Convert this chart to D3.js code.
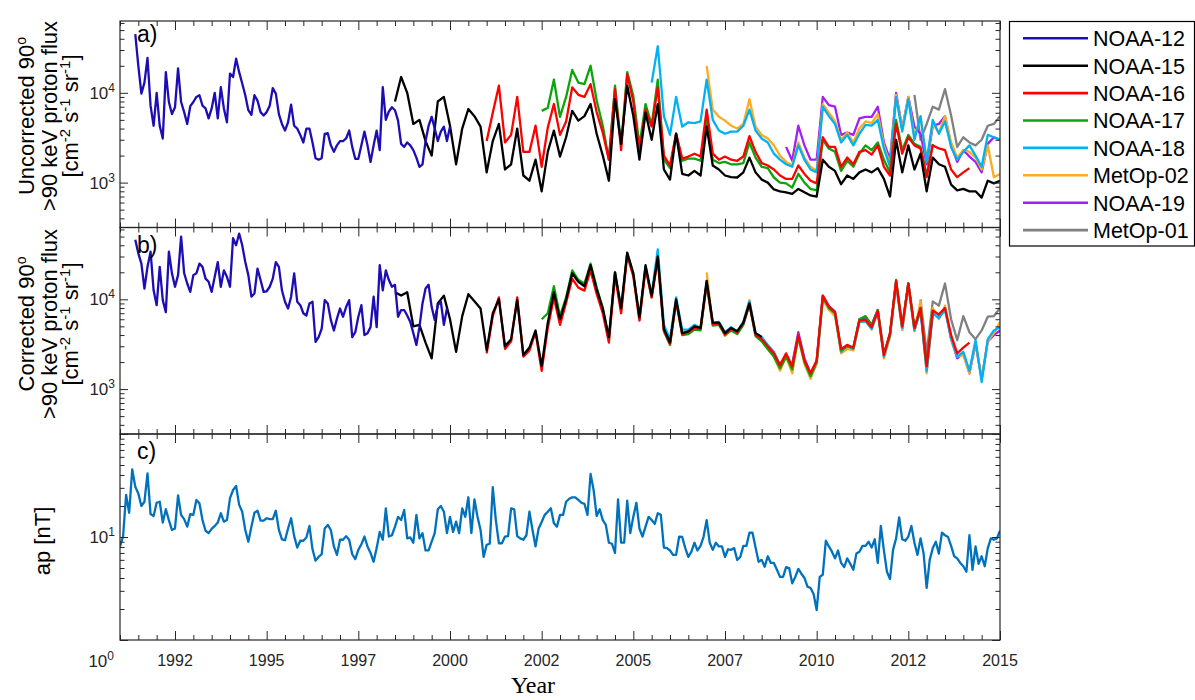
<!DOCTYPE html>
<html>
<head>
<meta charset="utf-8">
<script src="https://cdnjs.cloudflare.com/ajax/libs/d3/7.8.5/d3.min.js"></script>
<style>
  body { margin: 0; background: #fff; }
  svg { display: block; font-family: "Liberation Sans", Arial, Helvetica, sans-serif; }
</style>
</head>
<body>
<svg id="chart" width="1195" height="700"></svg>
<script>
// ---------------------------------------------------------------
// Data
// ---------------------------------------------------------------
const satNames  = ["NOAA-12", "NOAA-15", "NOAA-16", "NOAA-17", "NOAA-18", "MetOp-02", "NOAA-19", "MetOp-01"];
const satColors = ["#1d0db5", "#000000", "#ff0000", "#0ba40b", "#00b2f2", "#ffab1f", "#a31ff2", "#808080"];

const MONTH = 1 / 12;
const BIMONTH = 1 / 6;

// start times (decimal year) of each record
const starts = {
  n12: 1991 + 5 / 12,
  n15: 1998.5,
  n16: 2001.0,
  n17: 2002.5,
  n18: 2005.5,
  m02: 2007.0,
  n19raw: 2009 + 1 / 6, n19cor: 2009 + 2 / 6,
  m01raw: 2012 + 4 / 6, m01cor: 2012 + 5 / 6
};

// a) uncorrected >90 keV proton flux [cm^-2 s^-1 sr^-1]
const noaa12Raw = [45000, 20000, 9800, 13000, 24500, 7200, 4300, 10000, 4300, 3100, 17000, 7900, 5800, 6900, 18700, 7900,
  6100, 4500, 7100, 7900, 9000, 9400, 7200, 6700, 5200, 6700, 10000, 5200, 11600, 6700, 4700, 16400, 15000, 24000, 17000,
  12700, 9400, 6400, 5700, 9400, 8200, 6100, 5600, 6100, 7200, 11300, 9800, 5800, 4500, 3800, 4700, 7400, 4300, 4000, 3400,
  2800, 4000, 4000, 2800, 1870, 1800, 1870, 3500, 3550, 2600, 2200, 2600, 2900, 2900, 3100, 3800, 2500, 1840, 1840, 2600,
  3700, 2600, 1700, 2600, 3800, 2300, 11600, 5000, 6200, 6900, 6400, 4900, 2700, 2500, 2800, 2600, 2300, 1900, 1500, 1600,
  2900, 4300, 5400, 4000, 2900, 3700, 4200, 2900, 4200];
const noaa15Raw = [8000, 15000, 10000, 4500, 5000, 2900, 2000, 8000, 9000, 4300, 1600, 4000, 6600, 5500, 4200, 1300, 2900,
  4500, 1400, 1600, 4000, 1200, 1050, 1800, 800, 2200, 3800, 1950, 3200, 6300, 4900, 5500, 7500, 3500, 2000, 1050, 8500,
  2700, 12000, 5500, 1800, 6000, 3000, 7500, 1400, 1080, 3500, 1250, 1200, 1350, 1200, 4200, 1550, 1400, 1200, 1150, 1140,
  1300, 1900, 1300, 1080, 1000, 840, 800, 780, 750, 850, 780, 720, 700, 1800, 1500, 1350, 960, 1200, 1100, 1300, 1400, 1300,
  1450, 1100, 700, 3000, 1300, 2600, 1400, 2100, 800, 1900, 1600, 1500, 950, 820, 850, 800, 800, 680, 1050, 980, 1050];
const noaa16Raw = [2900, 6000, 12000, 2800, 3400, 9000, 2200, 2200, 4300, 1500, 4100, 7500, 3400, 4800, 11500, 9500, 9000,
  12500, 6100, 3600, 1800, 11000, 2300, 16000, 8000, 2200, 6500, 4200, 11500, 2000, 1550, 3500, 1850, 1950, 2100, 1950,
  6500, 2100, 1800, 1950, 1800, 1750, 1950, 3300, 2200, 1650, 1550, 1400, 1200, 1100, 1100, 1550, 1250, 1050, 980, 3200,
  2500, 2500, 1500, 1900, 1600, 2200, 2300, 2050, 2600, 1500, 1200, 4500, 2100, 3200, 2600, 2400, 1150, 2600, 2400, 2300,
  1400, 1150, 1300, 1450];
const noaa17Raw = [6300, 6800, 14000, 5400, 9000, 18000, 13000, 12500, 20000, 8200, 4300, 1800, 12000, 2600, 17000, 9200,
  2600, 7500, 4400, 14000, 1800, 1450, 3500, 1750, 1850, 1850, 1750, 5200, 1800, 1650, 1700, 1600, 1600, 1650, 2800, 1900,
  1500, 1450, 1140, 1000, 980, 880, 1250, 1000, 850, 820, 3000, 2400, 2200, 1350, 1750, 1500, 2100, 2600, 2300, 2800, 1800,
  1300, 5000, 2300, 3400, 2700, 2500, 1200, 2700];
const noaa18Raw = [13000, 33000, 5500, 3400, 9000, 4200, 4700, 4600, 4800, 14000, 5000, 3800, 3500, 3700, 3700, 4300, 6500,
  3800, 3100, 2800, 2100, 1800, 1600, 1500, 2600, 1800, 1400, 1300, 7000, 5500, 4500, 2800, 3400, 2600, 3500, 4400, 4300,
  5000, 2400, 1500, 9000, 3700, 8500, 3000, 5500, 1700, 5000, 3500, 4800, 2500, 1800, 2200, 2600, 2000, 1500, 3400, 3200, 3000];
const metop02Raw = [20000, 6500, 5400, 4900, 4300, 4000, 4500, 8500, 4200, 3400, 3100, 2600, 2000, 1700, 1550, 2800, 1900,
  1500, 1350, 7500, 6000, 4800, 3000, 3600, 2800, 4000, 4800, 4600, 5800, 2600, 1600, 9500, 3900, 9000, 3300, 5200, 1800,
  4500, 3600, 5500, 2800, 1900, 2300, 2200, 1900, 1400, 2600, 1150, 1250];
const noaa19Raw = [2500, 1750, 4300, 2600, 1800, 1800, 9000, 7300, 7000, 3400, 3600, 3400, 5200, 5400, 5400, 7000, 2800,
  1800, 10000, 4000, 9000, 4200, 3500, 1600, 4300, 4500, 5500, 2600, 1700, 2300, 1950, 1700, 1300, 2700, 3200, 3000];
const metop01Raw = [9500, 3000, 4500, 7000, 6500, 11000, 5600, 2500, 3200, 2800, 2600, 3000, 4300, 4500, 5500];

// b) corrected >90 keV proton flux [cm^-2 s^-1 sr^-1]
const noaa12Cor = [46000, 32500, 25000, 13200, 23000, 34000, 12600, 8600, 23000, 9800, 7200, 34000, 19500, 13800, 18600,
  50000, 19500, 15000, 12100, 18600, 19500, 25000, 23000, 17000, 15700, 12100, 17800, 26000, 13800, 21000, 17800, 13800,
  48000, 40000, 54000, 40000, 26000, 18600, 10700, 11600, 22000, 16400, 12100, 12300, 13800, 17000, 26000, 23000, 12600,
  9400, 7900, 10700, 19500, 9400, 8600, 7000, 6600, 9000, 9400, 3350, 3800, 4700, 9800, 9000, 5900, 4500, 6100, 7900, 6400,
  8200, 9800, 3800, 4300, 6400, 8600, 4000, 4200, 4900, 10700, 4900, 24000, 12600, 21000, 16400, 13800, 14500, 6400, 7600,
  7600, 6600, 5600, 4200, 3100, 4900, 9000, 13200, 14500, 8200, 5900, 8600, 9400, 5200, 7900];
const noaa15Cor = [12000, 11000, 12000, 5000, 5200, 3300, 2200, 9000, 11000, 6000, 2600, 6500, 11400, 9500, 7900, 2700, 7000,
  10000, 3000, 3600, 9800, 2400, 2900, 4500, 1800, 5500, 12000, 6000, 10000, 19500, 15700, 14000, 24000, 13000, 7900, 3800,
  20000, 8000, 33000, 19500, 6300, 24000, 11000, 30000, 4700, 3300, 10000, 4200, 4400, 5000, 4800, 16000, 5500, 5500, 4200,
  4800, 4400, 5500, 9000, 4200, 3800];
const noaa16Cor = [2500, 6500, 10500, 2800, 3400, 10500, 2300, 2700, 4300, 1600, 4800, 10500, 5200, 9200, 17000, 13500, 12500,
  21000, 11500, 7000, 3300, 18500, 7000, 31000, 18000, 5800, 22000, 10500, 28000, 4500, 3200, 9500, 4100, 4300, 4800, 4700,
  15000, 5300, 5400, 4100, 4700, 4300, 5400, 8800, 4000, 3600, 3000, 2500, 1850, 2500, 1800, 4000, 2100, 1500, 2100, 11000,
  8300, 7200, 2800, 3100, 2900, 5800, 5900, 4900, 7400, 2400, 4200, 16000, 5000, 15000, 4800, 8000, 1800, 7500, 6800, 8000,
  4000, 2500, 2900, 3300];
const noaa17Cor = [6000, 7000, 14000, 6500, 10500, 21000, 16500, 15000, 25000, 13500, 8000, 3600, 20000, 7500, 33000, 19000,
  6000, 23000, 10500, 29000, 4400, 3100, 9500, 4000, 4100, 4600, 4500, 15000, 5100, 5200, 4000, 4500, 4100, 5200, 8800, 3900,
  3400, 2800, 2300, 1700, 2300, 1650, 3800, 2000, 1400, 2000, 10500, 8000, 7000, 2700, 3000, 2900, 6000, 6500, 5200, 7600,
  2500, 4000, 16500, 5000, 15000, 4800, 8000, 1800, 7600];
const noaa18Cor = [11500, 36000, 5200, 3600, 10500, 4600, 4600, 5200, 4800, 16000, 5400, 5600, 4300, 4900, 4400, 5600, 9500,
  4200, 3800, 3100, 2600, 1850, 2400, 1750, 4000, 2100, 1400, 2000, 10500, 8200, 7000, 2600, 3000, 2800, 5600, 5700, 4700,
  7200, 2300, 4000, 15000, 4800, 15000, 4500, 7600, 1600, 7000, 6200, 7600, 3700, 2300, 2600, 1600, 3500, 1200, 3600, 4500, 4900];
const metop02Cor = [20000, 5200, 5600, 3900, 4600, 4200, 5500, 9800, 4000, 3500, 2800, 2300, 1600, 2300, 1500, 3700, 1900,
  1300, 1900, 10000, 7600, 6500, 2500, 2800, 2700, 5600, 5800, 4600, 7600, 2200, 3800, 15000, 4600, 14000, 4400, 9500, 1500,
  8000, 6000, 8500, 3600, 2300, 2400, 1500, 3300, 1300, 3400, 4200, 5600];
const noaa19Cor = [1900, 4300, 2200, 1500, 2000, 11000, 8400, 7300, 2600, 3100, 2800, 6000, 6200, 5200, 7600, 2400, 4200,
  15500, 4600, 15000, 4600, 7600, 1600, 7000, 6500, 8000, 3600, 2200, 2500, 1500, 3200, 1300, 3400, 4000, 4500];
const metop01Cor = [10000, 2500, 9500, 8500, 15000, 6000, 3500, 6500, 4300, 3600, 4500, 6400, 6500, 8000];

// c) monthly geomagnetic ap index [nT], January 1991 onward
const apStart = 1991.0;
const apValues = [8.1, 10.1, 25.6, 17.2, 45.4, 30.8, 26.5, 20, 22, 41.5, 16.7, 16, 21.5, 22, 13.8, 18.6, 14.6, 11.7, 12.1,
  25.4, 16.4, 14.9, 12.6, 16.7, 16.4, 22.9, 21.2, 14.6, 11.5, 10.9, 12, 12.8, 13.8, 17, 14.1, 14.6, 23.8, 28.6, 31.3, 20.5,
  17.6, 11.7, 9.0, 12.6, 17.2, 18, 14.4, 14.4, 15.2, 14.9, 14.9, 18, 11.7, 9.5, 9.3, 12.1, 15.2, 10.2, 7.9, 9.2, 9.2, 9.9,
  12.8, 7.6, 5.9, 6.4, 6.8, 12.1, 13.1, 11.7, 8.1, 6.7, 9.4, 9.4, 10.2, 9.4, 6.8, 6.1, 7.5, 8.5, 10.1,
  8.1, 7.0, 5.75, 7.8, 11.2, 9.4, 19, 10.1, 10.4, 12.6, 15.7, 14.6, 18.3, 9.7, 9.9, 8.8, 16.4, 9.7, 10.9, 7.4, 7.4, 9.0,
  10.9, 18.6, 20, 17.6, 10.9, 15.7, 11.2, 14.1, 10.9, 19, 15.7, 24.3, 10.9, 23.2, 15.7, 11.7, 6.4, 8.4, 8.6, 30.4, 14.6,
  8.7, 8.7, 10.1, 10.2, 19, 18.6, 10.2, 9.7, 9.4, 10.4, 17.6, 11.7, 8.1, 12.1, 14.0, 16.4, 17.6, 19, 13.6, 12.6, 16.4,
  16.4, 22, 23.5, 24.3, 24.3, 22.9, 21.5, 21, 16.4, 40.9, 28.6, 16, 18.6, 14.6, 13.1, 8.8, 8.6, 7.0, 23.2, 8.8, 8.8, 22.5,
  10.9, 15.7, 21.5, 12.1, 10.1, 12.6, 15.7, 14.6, 13.4, 17, 16.4, 7.9, 7.8, 7.4, 6.7, 6.7, 10.1, 10, 7.8, 6.4, 7.2, 8.8,
  7.4, 8.2, 10.1, 14.6, 8.8, 7.5, 8.8, 8.1, 8.1, 6.4, 7.6, 7.5, 7.8, 6.0, 6.4, 8.2, 8.2, 11, 11, 7.9, 5.75, 6.0, 5.15,
  6.5, 5.6, 5.6, 4.8, 4.1,
  4.1, 5.1, 5.0, 3.55, 4.1, 4.9, 4.4, 4.0, 3.3, 3.2, 2.8, 1.95, 4.1, 4.3, 9.2, 8.1, 7.2, 6.2, 7.4, 5.6, 5.1, 6.2, 5.5,
  4.8, 6.9, 7.2, 8.2, 8.2, 9.0, 7.9, 9.5, 5.6, 12.8, 7.4, 4.6, 3.9, 7.5, 9.7, 15.5, 9.5, 9.2, 10.1, 12.8, 8.8, 6.7, 9.7,
  6.9, 3.2, 6.0, 7.8, 9.0, 6.9, 11, 10.4, 10, 8.2, 6.5, 6.2, 5.6, 5.2, 4.6, 10.4, 4.8, 8.1, 5.5, 6.5, 5.2, 7.8, 9.7, 9.4,
  9.7, 11.5];

// time axis
const xDomain = [1991, 2015];
const xMajorTicks = [1992.5, 1995, 1997.5, 2000, 2002.5, 2005, 2007.5, 2010, 2012.5, 2015];
const xTickLabels = ["1992", "1995", "1997", "2000", "2002", "2005", "2007", "2010", "2012", "2015"];

// series tables (one entry per satellite, in legend order)
const rawSeries = [
  { start: starts.n12, step: MONTH, values: noaa12Raw },
  { start: starts.n15, step: BIMONTH, values: noaa15Raw },
  { start: starts.n16, step: BIMONTH, values: noaa16Raw },
  { start: starts.n17, step: BIMONTH, values: noaa17Raw },
  { start: starts.n18, step: BIMONTH, values: noaa18Raw },
  { start: starts.m02, step: BIMONTH, values: metop02Raw },
  { start: starts.n19raw, step: BIMONTH, values: noaa19Raw },
  { start: starts.m01raw, step: BIMONTH, values: metop01Raw }
];
const corSeries = [
  { start: starts.n12, step: MONTH, values: noaa12Cor },
  { start: starts.n15, step: BIMONTH, values: noaa15Cor },
  { start: starts.n16, step: BIMONTH, values: noaa16Cor },
  { start: starts.n17, step: BIMONTH, values: noaa17Cor },
  { start: starts.n18, step: BIMONTH, values: noaa18Cor },
  { start: starts.m02, step: BIMONTH, values: metop02Cor },
  { start: starts.n19cor, step: BIMONTH, values: noaa19Cor },
  { start: starts.m01cor, step: BIMONTH, values: metop01Cor }
];

// ---------------------------------------------------------------
// Layout
// ---------------------------------------------------------------
const svg = d3.select("#chart");
const axisColor = "#262626";
const plotLeft = 120, plotRight = 1000;
const panelBox = [
  { top: 21, bottom: 227.5 },
  { top: 227.5, bottom: 434 },
  { top: 434, bottom: 640 }
];

const x = d3.scaleLinear().domain(xDomain).range([plotLeft, plotRight]);
const yRaw = d3.scaleLog().domain([Math.pow(10, 2.5), Math.pow(10, 4.8)]).range([panelBox[0].bottom, panelBox[0].top]);
const yCor = d3.scaleLog().domain([Math.pow(10, 2.5), Math.pow(10, 4.8)]).range([panelBox[1].bottom, panelBox[1].top]);
const yAp  = d3.scaleLog().domain([1, 100]).range([panelBox[2].bottom, panelBox[2].top]);

const xMinorTicks = d3.range(1991, 2015.001, 0.5).filter(t => !xMajorTicks.includes(t));

function logMinor(scale) {
  const [lo, hi] = scale.domain();
  const out = [];
  for (let e = Math.floor(Math.log10(lo)); e <= Math.ceil(Math.log10(hi)); e++) {
    for (let m = 2; m <= 9; m++) {
      const v = m * Math.pow(10, e);
      if (v >= lo && v <= hi) out.push(v);
    }
  }
  return out;
}
function logMajor(scale) {
  const [lo, hi] = scale.domain();
  const out = [];
  for (let e = Math.ceil(Math.log10(lo) - 1e-9); e <= Math.floor(Math.log10(hi) + 1e-9); e++) out.push(Math.pow(10, e));
  return out;
}

function styleAxis(g) {
  g.select(".domain").remove();
  g.selectAll(".tick line").attr("stroke", axisColor).attr("stroke-width", 1);
  g.selectAll(".tick text").remove();
}

function drawFrame(y, box) {
  const g = svg.append("g").attr("class", "frame");
  const majY = logMajor(y), minY = logMinor(y);
  // bottom & top time ticks (pointing inward)
  [[d3.axisBottom, box.bottom], [d3.axisTop, box.top]].forEach(([ax, pos]) => {
    g.append("g").attr("transform", `translate(0,${pos})`)
      .call(ax(x).tickValues(xMajorTicks).tickSize(-9).tickSizeOuter(0)).call(styleAxis);
    g.append("g").attr("transform", `translate(0,${pos})`)
      .call(ax(x).tickValues(xMinorTicks).tickSize(-5).tickSizeOuter(0)).call(styleAxis);
  });
  // left & right log ticks
  [[d3.axisLeft, plotLeft], [d3.axisRight, plotRight]].forEach(([ax, pos]) => {
    g.append("g").attr("transform", `translate(${pos},0)`)
      .call(ax(y).tickValues(majY).tickSize(-8).tickSizeOuter(0)).call(styleAxis);
    g.append("g").attr("transform", `translate(${pos},0)`)
      .call(ax(y).tickValues(minY).tickSize(-4.5).tickSizeOuter(0)).call(styleAxis);
  });
  g.append("rect")
    .attr("x", plotLeft).attr("y", box.top)
    .attr("width", plotRight - plotLeft).attr("height", box.bottom - box.top)
    .attr("fill", "none").attr("stroke", axisColor).attr("stroke-width", 1.2);
}

function powerLabel(xPos, yBase, exponent) {
  const t = svg.append("text")
    .attr("x", xPos).attr("y", yBase)
    .attr("text-anchor", "end")
    .attr("fill", axisColor)
    .attr("font-size", 17);
  t.append("tspan").text("10");
  t.append("tspan").attr("dy", -7).attr("font-size", 12).text(exponent);
}

// clip regions for each panel
const defs = svg.append("defs");
panelBox.forEach((b, i) => {
  defs.append("clipPath").attr("id", "clip" + i)
    .append("rect").attr("x", plotLeft).attr("y", b.top)
    .attr("width", plotRight - plotLeft).attr("height", b.bottom - b.top);
});

function toPoints(s) {
  return s.values.map((v, i) => ({ t: s.start + i * s.step, v }));
}

function drawFlux(series, y, clipId) {
  const line = d3.line().x(d => x(d.t)).y(d => y(d.v));
  const g = svg.append("g").attr("clip-path", `url(#${clipId})`);
  // later satellites underneath, earlier satellites on top
  for (let i = series.length - 1; i >= 0; i--) {
    g.append("path")
      .datum(toPoints(series[i]))
      .attr("d", line)
      .attr("fill", "none")
      .attr("stroke", satColors[i])
      .attr("stroke-width", 2.3)
      .attr("stroke-linejoin", "round");
  }
}

// ---------------------------------------------------------------
// Panels
// ---------------------------------------------------------------
drawFlux(rawSeries, yRaw, "clip0");
drawFlux(corSeries, yCor, "clip1");

const apLine = d3.line().x(d => x(d.t)).y(d => yAp(d.v));
svg.append("g").attr("clip-path", "url(#clip2)")
  .append("path")
  .datum(toPoints({ start: apStart, step: MONTH, values: apValues }))
  .attr("d", apLine)
  .attr("fill", "none")
  .attr("stroke", "#0072bd")
  .attr("stroke-width", 2.3)
  .attr("stroke-linejoin", "round");

drawFrame(yRaw, panelBox[0]);
drawFrame(yCor, panelBox[1]);
drawFrame(yAp, panelBox[2]);

// y tick labels
[[yRaw, [1000, 10000]], [yCor, [1000, 10000]]].forEach(([y, vals]) => {
  vals.forEach(v => powerLabel(115, y(v) + 6, String(Math.round(Math.log10(v)))));
});
powerLabel(115, yAp(10) + 6, "1");
powerLabel(114, 667, "0");

// x tick labels
svg.append("g").selectAll("text")
  .data(xMajorTicks)
  .join("text")
  .attr("x", d => x(d))
  .attr("y", 666)
  .attr("text-anchor", "middle")
  .attr("fill", axisColor)
  .attr("font-size", 16)
  .text((d, i) => xTickLabels[i]);

svg.append("text")
  .attr("x", 533).attr("y", 693)
  .attr("text-anchor", "middle")
  .style("font-family", "'Liberation Serif', 'Times New Roman', serif")
  .attr("font-size", 24)
  .attr("fill", "#000")
  .text("Year");

// panel letters
[["a)", 42], ["b)", 253], ["c)", 459]].forEach(([s, yb]) => {
  svg.append("text").attr("x", 137).attr("y", yb)
    .attr("font-size", 23).attr("fill", "#000").text(s);
});

// y axis titles
function unitsLine(t) {
  t.append("tspan").text("[cm");
  t.append("tspan").attr("dy", -8).attr("font-size", 15).text("-2");
  t.append("tspan").attr("dy", 8).text(" s");
  t.append("tspan").attr("dy", -8).attr("font-size", 15).text("-1");
  t.append("tspan").attr("dy", 8).text(" sr");
  t.append("tspan").attr("dy", -8).attr("font-size", 15).text("-1");
  t.append("tspan").attr("dy", 8).text("]");
}
function fluxTitle(first, cy) {
  const lines = [34, 57, 78];
  const mk = (bx) => svg.append("text")
    .attr("transform", `translate(${bx},${cy}) rotate(-90)`)
    .attr("text-anchor", "middle")
    .attr("font-size", 22)
    .attr("fill", "#000");
  const t1 = mk(lines[0]);
  t1.append("tspan").text(first + " 90");
  t1.append("tspan").attr("dy", -8).attr("font-size", 14).text("o");
  mk(lines[1]).text(">90 keV proton flux");
  unitsLine(mk(lines[2]));
}
fluxTitle("Uncorrected", 116);
fluxTitle("Corrected", 324);
svg.append("text")
  .attr("transform", "translate(50,541) rotate(-90)")
  .attr("text-anchor", "middle")
  .attr("font-size", 22)
  .attr("fill", "#000")
  .text("ap [nT]");

// legend
const legend = svg.append("g");
legend.append("rect")
  .attr("x", 1009.5).attr("y", 21.5).attr("width", 185).attr("height", 224.5)
  .attr("fill", "#fff").attr("stroke", "#000").attr("stroke-width", 1.2);
satNames.forEach((name, i) => {
  const cy = 38.3 + i * 27.4;
  legend.append("line")
    .attr("x1", 1023).attr("x2", 1088).attr("y1", cy).attr("y2", cy)
    .attr("stroke", satColors[i]).attr("stroke-width", 2.6);
  legend.append("text")
    .attr("x", 1093).attr("y", cy + 7.8)
    .attr("font-size", 21.5).attr("fill", "#000")
    .text(name);
});
</script>
</body>
</html>
